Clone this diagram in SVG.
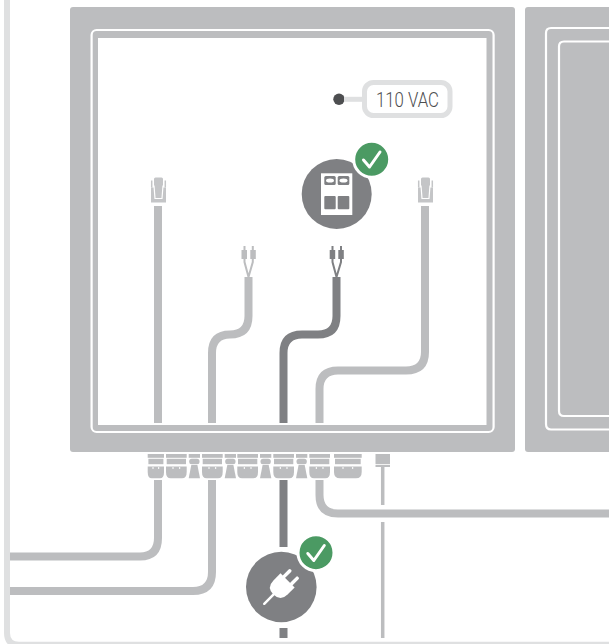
<svg xmlns="http://www.w3.org/2000/svg" width="609" height="644" viewBox="0 0 609 644">
<style>
.panel{fill:#bcbdbf}
.ln{fill:none;stroke:#fff;stroke-width:2.2}
.c{fill:none;stroke:#bcbdbf;stroke-width:8}
.d{fill:none;stroke:#7f8083;stroke-width:8}
.k{fill:#bcbdbf}
.dk{fill:#7f8083}
.w{fill:#fff}
.badge{fill:#4b9a63;stroke:#fff;stroke-width:3}
.tick{fill:none;stroke:#fff;stroke-width:3;stroke-linecap:round;stroke-linejoin:round}
.wire{fill:none;stroke-width:2}
</style>
<defs>
<g id="rj">
<rect x="-4.500" y="0" width="9" height="12" rx="1.500" fill="#c4c5c7"/>
<rect x="-7.500" y="10" width="15" height="15" fill="#c4c5c7"/>
<path d="M-6.800 3V10M6.800 3V10" stroke="#c4c5c7" stroke-width="1.500" fill="none"/>
<path d="M-4.500 8L-3.500 21H3.500L4.500 8" stroke="#fff" stroke-width="1.200" fill="none"/>
</g>
<g id="wide">
<rect x="0" y="0" width="20.7" height="3.800" class="k"/>
<rect x="0.700" y="4.800" width="19.300" height="5.400" class="k"/>
<path d="M0 12.500H20.700V18Q20.700 24.300 16 24.300H4.700Q0 24.300 0 18Z" class="k"/>
<path d="M7 13V15M13.700 13V15" stroke="#fff" stroke-width="1"/>
</g>
<g id="narrow">
<rect x="0" y="0" width="11.300" height="3.800" class="k"/>
<rect x="0.500" y="4.800" width="10.300" height="5.400" rx="2.500" class="k"/>
<path d="M2.600 11H8.700L11.300 24.300H0Z" class="k"/>
</g>
</defs>
<rect width="609" height="644" fill="#fff"/>
<path id="frame" d="M7 -10V633Q7 644.700 19 644.700H620" fill="none" stroke="#dfe0e1" stroke-width="6"/>
<g id="panel-left">
<rect class="panel" x="70" y="7" width="445" height="445" rx="3"/>
<rect class="w" x="98" y="38" width="388.500" height="387"/>
<rect class="ln" x="91.600" y="30" width="402" height="402" rx="5"/>
</g>
<g id="panel-right">
<path class="panel" d="M609 7H528Q525 7 525 10V449Q525 452 528 452H609Z"/>
<path class="ln" d="M609 28H551Q546 28 546 33V424Q546 429.500 551 429.500H609"/>
<path class="ln" d="M609 41.500H564Q559 41.500 559 46.500V411Q559 416 564 416H609"/>
</g>
<g id="connectors">
<path class="c" d="M158 206V423"/>
<path class="c" d="M248.500 277V316Q248.500 334.500 230 334.500Q212 334.500 212 353V423"/>
<path class="d" d="M336.500 277V316Q336.500 334.500 318 334.500H302Q283.500 334.500 283.500 353V423"/>
<path class="c" d="M425 206V352Q425 370.500 406 370.500H338Q319.500 370.500 319.500 389V423"/>
<path class="c" d="M158 480V538Q158 556.500 140 556.500H10"/>
<path class="c" d="M212 480V572Q212 591 193 591H10"/>
<path class="d" d="M283.500 480V547M283.500 628V638"/>
<path class="c" d="M319.500 480V495Q319.500 513.500 338 513.500H609"/>
<path d="M382.700 467V505M382.700 522V638" fill="none" stroke="#bcbdbf" stroke-width="3.500"/>
</g>
<g id="ports">
<rect x="147.700" y="454" width="16.300" height="3.800" class="k"/>
<rect x="148.400" y="458.800" width="15" height="5.400" class="k"/>
<path d="M147.700 466.500H164V472Q164 478.300 160 478.300H151.700Q147.700 478.300 147.700 472Z" class="k"/>
<path d="M153 467V469M158.700 467V469" stroke="#fff"/>
<use href="#wide" x="166" y="454"/>
<use href="#narrow" x="188.700" y="454"/>
<use href="#wide" x="202" y="454"/>
<use href="#narrow" x="224.700" y="454"/>
<use href="#wide" x="237.300" y="454"/>
<use href="#narrow" x="260" y="454"/>
<use href="#wide" x="273.300" y="454"/>
<use href="#narrow" x="296" y="454"/>
<use href="#wide" x="309.300" y="454"/>
<rect x="334" y="454" width="27.700" height="3.800" class="k"/>
<rect x="335" y="458.800" width="25.700" height="5.400" class="k"/>
<path d="M334 466.500H361.700V472Q361.700 478.300 356 478.300H340Q334 478.300 334 472Z" class="k"/>
<path d="M343 467V469M352.700 467V469" stroke="#fff"/>
<rect x="375.500" y="454" width="14.500" height="10" class="k"/>
<rect x="375.500" y="464.800" width="14.500" height="2.200" class="k"/>
</g>
<g id="rj-left"><use href="#rj" x="158.500" y="177.500"/></g>
<g id="rj-right"><use href="#rj" x="425.500" y="177.500"/></g>
<g id="wires-light">
<path class="wire" stroke="#bcbdbf" d="M248.500 277L244.500 262V246M248.500 277L252.800 262V246"/>
<rect x="241.500" y="250" width="5.500" height="9" class="k"/>
<rect x="250.300" y="250" width="5.500" height="9" class="k"/>
</g>
<g id="wires-dark">
<path class="wire" stroke="#7f8083" d="M336.500 277L332.500 262V246M336.500 277L341 262V246"/>
<rect x="329.700" y="250" width="5.500" height="9" class="dk"/>
<rect x="338.300" y="250" width="5.500" height="9" class="dk"/>
</g>
<g id="label-110">
<circle cx="339" cy="99.300" r="5.700" fill="#4d4e50"/>
<path d="M344 99.300H362" stroke="#dfe0e1" stroke-width="5" fill="none"/>
<rect x="364.500" y="82.500" width="85.500" height="33" rx="9" fill="#fff" stroke="#dfe0e1" stroke-width="5"/>
<text x="407.500" y="106.500" text-anchor="middle" font-family="Roboto, sans-serif" font-weight="300" font-size="20" textLength="63" lengthAdjust="spacingAndGlyphs" fill="#4d4e50">110 VAC</text>
</g>
<g id="device">
<circle cx="336.700" cy="194" r="35" class="dk"/>
<rect x="321" y="173.300" width="31.300" height="41.700" class="w"/>
<rect x="324.300" y="176" width="11.400" height="9" rx="1.500" class="dk"/>
<rect x="337.700" y="176" width="11.600" height="9" rx="1.500" class="dk"/>
<ellipse cx="330" cy="180.500" rx="4" ry="2" class="w"/>
<ellipse cx="343.500" cy="180.500" rx="4" ry="2" class="w"/>
<rect x="324.300" y="196" width="11.400" height="13.300" rx="1" class="dk"/>
<rect x="337.700" y="196" width="11.600" height="13.300" rx="1" class="dk"/>
</g>
<g id="check-device">
<circle cx="371.700" cy="159.300" r="18" class="badge"/>
<path class="tick" d="M363.500 160L369.500 167L380 152"/>
</g>
<g id="plug">
<circle cx="281.300" cy="587" r="35.300" class="dk"/>
<g transform="translate(280.500 587.500) rotate(45)">
<path class="w" d="M-10 -10H10V0Q10 10 0 10Q-10 10 -10 0Z"/>
<rect x="-7" y="-20" width="3.500" height="11" rx="1.500" class="w"/>
<rect x="3.500" y="-20" width="3.500" height="11" rx="1.500" class="w"/>
<path d="M0 8V23" stroke="#fff" stroke-width="2.500" stroke-linecap="round"/>
</g>
</g>
<g id="check-plug">
<circle cx="316" cy="552.700" r="18" class="badge"/>
<path class="tick" d="M307.800 553.500L313.800 560.500L324.300 545.500"/>
</g>
</svg>
